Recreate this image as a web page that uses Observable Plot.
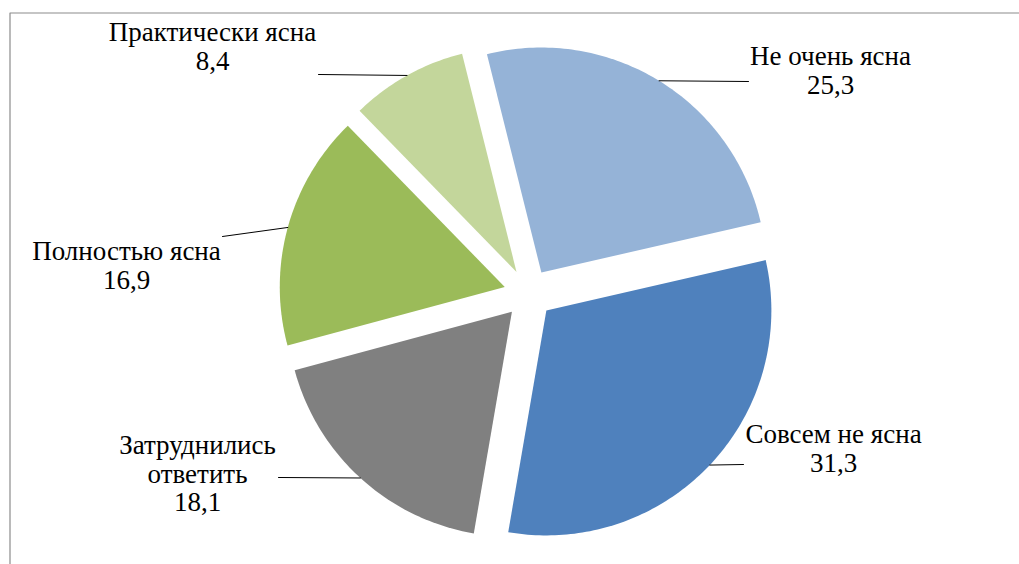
<!DOCTYPE html>
<html>
<head>
<meta charset="utf-8">
<script src="https://cdn.jsdelivr.net/npm/d3@7"></script>
<script src="https://cdn.jsdelivr.net/npm/@observablehq/plot@0.6"></script>
<style>
  html, body { margin: 0; padding: 0; background: #fff; }
  #chart { width: 1019px; height: 564px; }
</style>
</head>
<body>
<div id="chart"></div>
<script>
// Data
const categories = ["Не очень ясна", "Совсем не ясна", "Затруднились ответить", "Полностью ясна", "Практически ясна"];
const labelLines = [["Не очень ясна"], ["Совсем не ясна"], ["Затруднились", "ответить"], ["Полностью ясна"], ["Практически ясна"]];
const values = [25.3, 31.3, 18.1, 16.9, 8.4];
const colors = ["#95B3D7", "#4F81BD", "#808080", "#9BBB59", "#C3D69B"];

// Layout (pixels)
const W = 1019, H = 564;
const cx = 528, cy = 293, R = 225, explode = 24.6;
const startDeg = -14;
// label centers and leader-line outer ends
const labelPos = [[830, 70], [833, 448], [197, 473], [126, 265], [212, 46]];
const leaderEnd = [[748, 81], [743, 464], [278, 477], [222, 236], [318, 74]];

const total = d3.sum(values);
const toRad = Math.PI / 180;
let acc = startDeg * toRad;
const slices = values.map((v, i) => {
  const a0 = acc, a1 = acc + v / total * 2 * Math.PI;
  acc = a1;
  const am = (a0 + a1) / 2;
  const ox = cx + explode * Math.sin(am), oy = cy - explode * Math.cos(am);
  return {i, a0, a1, am, ox, oy};
});

const polyPts = [];
slices.forEach(s => {
  const n = Math.max(8, Math.ceil((s.a1 - s.a0) / (Math.PI / 180)));
  polyPts.push({cat: categories[s.i], x: s.ox, y: s.oy});
  for (let k = 0; k <= n; k++) {
    const a = s.a0 + (s.a1 - s.a0) * k / n;
    polyPts.push({cat: categories[s.i], x: s.ox + R * Math.sin(a), y: s.oy - R * Math.cos(a)});
  }
  polyPts.push({cat: categories[s.i], x: s.ox, y: s.oy});
});

const leaders = [];
slices.forEach(s => {
  leaders.push({cat: categories[s.i], x: s.ox + R * Math.sin(s.am), y: s.oy - R * Math.cos(s.am)});
  leaders.push({cat: categories[s.i], x: leaderEnd[s.i][0], y: leaderEnd[s.i][1]});
});

const fmt = v => v.toFixed(1).replace(".", ",");
const labels = slices.map(s => ({
  x: labelPos[s.i][0], y: labelPos[s.i][1],
  text: [...labelLines[s.i], fmt(values[s.i])].join("\n")
}));

const serif = "'Liberation Serif', 'Times New Roman', serif";
const chart = Plot.plot({
  width: W, height: H,
  margin: 0,
  x: {domain: [0, W], range: [0, W], axis: null},
  y: {domain: [0, H], range: [0, H], axis: null},
  color: {domain: categories, range: colors},
  style: {fontFamily: serif, background: "#fff"},
  marks: [
    Plot.line([{x: 9.5, y: H}, {x: 9.5, y: 12.5}, {x: W, y: 12.5}], {x: "x", y: "y", stroke: "#8c8c8c", strokeWidth: 1.2}),
    Plot.line(polyPts, {x: "x", y: "y", z: "cat", fill: "cat", stroke: "none", curve: "linear"}),
    Plot.line(leaders, {x: "x", y: "y", z: "cat", stroke: "#000", strokeWidth: 1}),
    Plot.text(labels, {x: "x", y: "y", text: "text", fill: "#000", fontFamily: serif, fontSize: 27, lineHeight: 1.04, textAnchor: "middle", lineAnchor: "middle"})
  ]
});
document.getElementById("chart").appendChild(chart);
</script>
</body>
</html>
